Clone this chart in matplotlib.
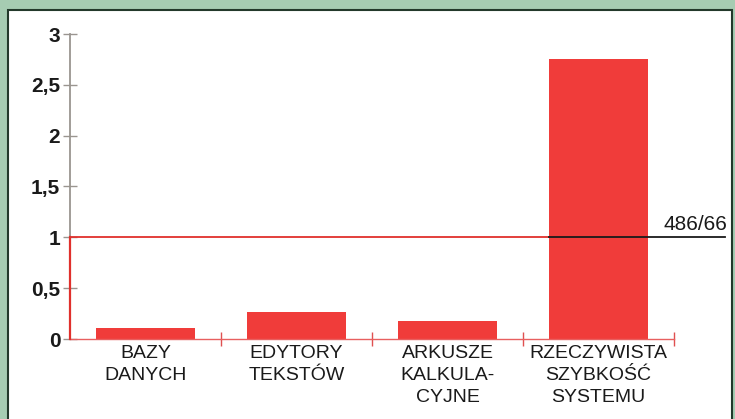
import numpy as np
import matplotlib.pyplot as plt
from matplotlib.patches import Rectangle

plt.rcParams['font.family'] = ['Liberation Sans', 'DejaVu Sans']

# dane
kategorie = ['BAZY\nDANYCH', 'EDYTORY\nTEKSTÓW', 'ARKUSZE\nKALKULA-\nCYJNE',
             'RZECZYWISTA\nSZYBKOŚĆ\nSYSTEMU']
wartosci = [0.11, 0.27, 0.18, 2.75]
poziom_odniesienia = 1.0
etykieta_poziomu = '486/66'
y_ticks = [0, 0.5, 1, 1.5, 2, 2.5, 3]
y_labels = ['0', '0,5', '1', '1,5', '2', '2,5', '3']

czerwony = '#f03c3a'

fig = plt.figure(figsize=(7.35, 4.19), dpi=100)
fig.patch.set_facecolor('#a6ccb2')

# białe tło panelu
panel = Rectangle((8 / 735, -0.01), 724 / 735, 1.01 - 10 / 419, transform=fig.transFigure,
                  facecolor='white', edgecolor='#23392b', linewidth=1.5, zorder=-10)
fig.patches.append(panel)

ax = fig.add_axes([70 / 735, 1 - 339 / 419, 604 / 735, 305 / 419])
ax.set_facecolor('none')

x = np.arange(len(kategorie))
ax.bar(x, wartosci, width=0.66, color=czerwony, zorder=2)

ax.set_xlim(-0.5, len(kategorie) - 0.5)
ax.set_ylim(0, 3)

# linia odniesienia
lewa_kraw = x[-1] - 0.33
ax.plot([-0.5, lewa_kraw], [poziom_odniesienia] * 2, color='#e0302c', lw=1.3, zorder=3)
ax.plot([lewa_kraw, 3.84], [poziom_odniesienia] * 2, color='#1a1a1a', lw=1.3,
        zorder=3, clip_on=False)
ax.text(3.43, 1.13, etykieta_poziomu, fontsize=15, color='#1a1a1a', ha='left', va='center')

# osie
for s in ['top', 'right']:
    ax.spines[s].set_visible(False)
ax.spines['left'].set_color('#9a9590')
ax.spines['left'].set_linewidth(1.3)
ax.spines['bottom'].set_color('#e86060')
ax.spines['bottom'].set_linewidth(1.0)
ax.plot([-0.5, -0.5], [0, poziom_odniesienia], color='#e0302c', lw=1.6, clip_on=False, zorder=4)

ax.set_yticks(y_ticks)
ax.set_yticklabels(y_labels, fontsize=15, fontweight='bold', color='#1a1a1a')
ax.tick_params(axis='y', direction='inout', length=10, width=1, color='#9a9590', pad=2)

ax.set_xticks(x)
ax.set_xticklabels(kategorie, fontsize=14, color='#1a1a1a', linespacing=1.4)
ax.tick_params(axis='x', length=0, pad=4)
ax.set_xticks(np.arange(0.5, len(kategorie)), minor=True)
ax.tick_params(axis='x', which='minor', direction='inout', length=10, width=1, color='#e05050')

fig.savefig('out.png', dpi=100, facecolor=fig.get_facecolor())
